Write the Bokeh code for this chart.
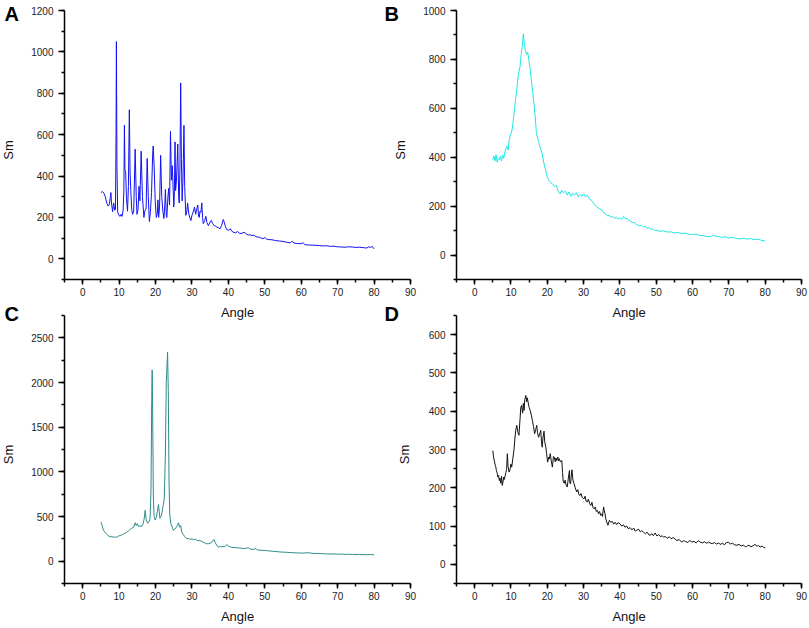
import math
from bokeh.plotting import figure
from bokeh.models import LinearAxis, SingleIntervalTicker, Label, Range1d
from bokeh.embed import file_html
from bokeh.resources import INLINE

# ---------------- data ----------------
panel_letters = ["A", "B", "C", "D"]
x_limits = (-5, 90)
x_tick_interval = 10
y_limits = {"A": (-100, 1200), "B": (-100, 1000), "C": (-250, 2750), "D": (-50, 650)}
y_tick_interval = {"A": 200, "B": 200, "C": 500, "D": 100}
x_title = "Angle"
y_title = "Sm"

A_angle = [5.0, 5.4, 5.8, 6.2, 6.6, 7.0, 7.3, 7.6, 7.75, 7.9, 8.2, 8.5, 8.8, 9.0, 9.15, 9.25, 9.4, 9.6, 9.9,
           10.2, 10.5, 10.8, 11.1, 11.3, 11.45, 11.6, 11.8, 12.0, 12.3, 12.55, 12.8, 13.0, 13.2, 13.45, 13.7,
           14.0, 14.4, 14.7, 14.9, 15.2, 15.45, 15.7, 16.05, 16.4, 16.8, 17.1, 17.4, 17.7, 18.0, 18.3, 18.6,
           18.9, 19.2, 19.35, 19.6, 19.9, 20.2, 20.5, 20.65, 20.85, 21.1, 21.4, 21.7, 22.0, 22.3, 22.55, 22.7,
           22.95, 23.1, 23.4, 23.6, 23.85, 24.1, 24.35, 24.6, 24.85, 25.0, 25.15, 25.35, 25.5, 25.75, 26.1,
           26.35, 26.5, 26.7, 26.9, 27.1, 27.3, 27.55, 27.8, 28.0, 28.3, 28.6, 28.8, 29.1, 29.4, 29.7, 30.0,
           30.3, 30.7, 31.0, 31.3, 31.6, 31.8, 32.0, 32.2, 32.45, 32.7, 32.9, 33.1, 33.5, 33.8, 34.1, 34.5,
           34.9, 35.3, 35.7, 36.1, 36.5, 36.9, 37.3, 37.7, 38.1, 38.6, 38.9, 39.2, 39.6, 40.0, 40.5, 41.0,
           41.5, 42.0, 42.5, 43.0, 43.5, 44.0, 44.5, 45.0, 45.5, 46.0, 46.5, 47.0, 47.5, 48.0, 48.5, 49.0,
           49.5, 50.0, 50.5, 51.0, 52.0, 53.0, 54.0, 55.0, 56.0, 57.0, 57.5, 58.0, 59.0, 60.0, 60.5, 61.0,
           62.0, 63.0, 64.0, 65.0, 66.0, 67.0, 68.0, 69.0, 70.0, 71.0, 72.0, 73.0, 74.0, 75.0, 76.0, 77.0,
           78.0, 78.5, 79.0, 79.5, 80.0]
A_sm = [320, 325, 318, 300, 270, 255, 262, 300, 320, 270, 228, 270, 235, 240, 600, 1050, 450, 225, 212,
        205, 215, 205, 235, 330, 645, 430, 420, 300, 230, 350, 720, 420, 330, 240, 215,
        230, 530, 300, 215, 240, 350, 280, 520, 300, 200, 235, 240, 485, 300, 180, 230,
        320, 500, 545, 450, 280, 200, 220, 285, 200, 250, 500, 300, 230, 195, 260, 335,
        210, 200, 300, 340, 260, 615, 380, 450, 330, 250, 300, 565, 330, 380, 555,
        300, 270, 450, 850, 480, 280, 400, 645, 350, 210, 230, 270, 220, 200, 185, 210,
        225, 250, 215, 240, 260, 205, 200, 230, 225, 270, 200, 170, 185, 205, 175, 160,
        175, 185, 170, 160, 158, 152, 150, 145, 160, 190, 175, 155, 140, 138, 145, 132,
        128, 126, 132, 124, 122, 126, 128, 118, 115, 116, 112, 114, 108, 105, 104, 100,
        97, 103, 95, 93, 92, 88, 86, 84, 80, 77, 85, 76, 74, 73, 78, 68,
        67, 66, 65, 64, 62, 63, 60, 61, 58, 57, 56, 58, 57, 55, 56, 54,
        52, 58, 55, 60, 48]

B_angle = [5.0, 5.3, 5.6, 5.9, 6.2, 6.5, 6.8, 7.1, 7.4, 7.7, 8.0, 8.3, 8.6, 8.9, 9.2, 9.5, 9.8, 10.1, 10.4,
           10.7, 11.0, 11.3, 11.6, 11.9, 12.2, 12.5, 12.8, 13.1, 13.4, 13.7, 14.0, 14.3, 14.6, 14.9, 15.2,
           15.5, 15.8, 16.1, 16.4, 16.7, 17.0, 17.3, 17.6, 18.0, 18.5, 19.0, 19.5, 20.0, 20.5, 21.0, 21.5,
           22.0, 22.5, 23.0, 23.5, 24.0, 24.5, 25.0, 25.5, 26.0, 26.5, 27.0, 27.5, 28.0, 28.5, 29.0, 29.5,
           30.0, 30.5, 31.0, 31.5, 32.0, 32.5, 33.0, 33.5, 34.0, 34.5, 35.0, 35.5, 36.0, 36.5, 37.0, 37.5,
           38.0, 38.5, 39.0, 39.5, 40.0, 40.5, 41.0, 41.5, 42.0, 42.5, 43.0, 43.5, 44.0, 44.5, 45.0, 45.5,
           46.0, 46.5, 47.0, 47.5, 48.0, 48.5, 49.0, 49.5, 50.0, 51.0, 52.0, 53.0, 54.0, 55.0, 56.0, 57.0,
           58.0, 59.0, 60.0, 61.0, 62.0, 63.0, 64.0, 65.0, 65.5, 66.0, 67.0, 68.0, 69.0, 70.0, 71.0, 72.0,
           73.0, 74.0, 75.0, 76.0, 77.0, 78.0, 79.0, 80.0]
B_sm = [390, 405, 385, 410, 380, 395, 390, 405, 385, 410, 395, 420, 435, 445, 430, 470, 490, 500, 520,
        560, 600, 640, 680, 720, 750, 770, 820, 850, 905, 860, 835, 820, 830, 800, 770,
        730, 690, 650, 610, 560, 500, 480, 465, 440, 420, 380, 350, 320, 305, 295, 290,
        280, 285, 260, 250, 265, 255, 262, 245, 258, 240, 252, 245, 255, 238, 248, 240,
        250, 238, 245, 230, 225, 218, 205, 200, 192, 188, 185, 174, 170, 160, 162, 155,
        158, 150, 155, 148, 152, 146, 158, 148, 150, 140, 138, 132, 134, 125, 122, 120,
        122, 115, 118, 110, 112, 106, 108, 100, 102, 97, 99, 94, 95, 90, 92, 88,
        90, 85, 84, 86, 80, 79, 76, 74, 82, 78, 76, 72, 75, 70, 72, 68,
        66, 69, 65, 67, 63, 65, 60, 57]

C_angle = [5.0, 5.2, 5.5, 5.8, 6.1, 6.5, 7.0, 7.5, 8.0, 8.5, 9.0, 9.5, 10.0, 10.5, 11.0, 11.5, 12.0, 12.5,
           13.0, 13.5, 14.0, 14.4, 14.7, 15.0, 15.3, 15.7, 16.2, 16.6, 16.9, 17.15, 17.4, 17.8, 18.2, 18.5,
           18.75, 18.95, 19.07, 19.2, 19.4, 19.6, 19.9, 20.2, 20.5, 20.8, 21.0, 21.2, 21.5, 21.7, 22.0,
           22.4, 22.7, 22.95, 23.3, 23.5, 23.7, 23.9, 24.2, 24.6, 24.9, 25.3, 25.7, 26.0, 26.3, 26.6, 26.9,
           27.2, 27.6, 28.0, 28.6, 29.0, 29.5, 30.0, 30.5, 31.0, 31.4, 32.0, 32.5, 33.0, 33.5, 34.0, 34.6,
           35.0, 35.5, 35.8, 36.1, 36.4, 36.8, 37.2, 37.6, 38.0, 38.5, 39.0, 39.5, 40.0, 40.5, 41.0, 42.0,
           43.0, 44.0, 45.0, 45.5, 46.0, 47.0, 47.5, 48.0, 49.0, 50.0, 51.0, 52.0, 53.0, 54.0, 55.0, 56.0,
           57.0, 58.0, 59.0, 60.0, 61.0, 62.0, 63.0, 64.0, 65.0, 66.0, 67.0, 68.0, 69.0, 70.0, 71.0, 72.0,
           73.0, 74.0, 75.0, 76.0, 77.0, 78.0, 79.0, 80.0]
C_sm = [440, 419, 370, 340, 325, 305, 285, 276, 272, 270, 268, 272, 285, 290, 300, 310, 320, 335,
        355, 370, 380, 430, 400, 420, 388, 395, 389, 420, 480, 570, 470, 425, 440, 480,
        800, 1800, 2142, 1700, 700, 500, 460, 490, 560, 634, 560, 480, 500, 530, 600,
        700, 1200, 2000, 2339, 1900, 900, 520, 419, 380, 343, 360, 380, 400, 430, 380, 400,
        325, 300, 275, 250, 255, 245, 250, 240, 245, 232, 232, 225, 215, 205, 195, 195,
        200, 215, 235, 240, 205, 180, 157, 165, 160, 165, 160, 185, 170, 160, 155, 150,
        148, 142, 146, 150, 135, 132, 140, 125, 122, 120, 115, 112, 108, 104, 101, 99,
        96, 94, 92, 90, 92, 95, 88, 86, 85, 83, 82, 80, 81, 78, 79, 76,
        78, 75, 74, 76, 73, 72, 74, 71]

D_angle = [5.0, 5.2, 5.4, 5.6, 5.8, 6.0, 6.2, 6.4, 6.6, 6.8, 7.0, 7.2, 7.4, 7.6, 7.8, 8.0, 8.2, 8.4, 8.6,
           8.8, 9.0, 9.2, 9.5, 9.8, 10.0, 10.2, 10.5, 10.8, 11.1, 11.3, 11.6, 11.9, 12.2, 12.5, 12.7, 12.9,
           13.2, 13.4, 13.6, 13.8, 14.1, 14.3, 14.5, 14.8, 15.0, 15.3, 15.6, 15.9, 16.2, 16.5, 16.8, 17.1,
           17.3, 17.6, 17.9, 18.2, 18.4, 18.6, 18.8, 19.1, 19.3, 19.6, 19.8, 20.1, 20.4, 20.6, 20.8, 21.1,
           21.4, 21.7, 21.9, 22.2, 22.4, 22.6, 22.9, 23.1, 23.3, 23.6, 24.0, 24.2, 24.4, 24.7, 24.9, 25.1,
           25.3, 25.5, 25.8, 26.1, 26.2, 26.4, 26.6, 26.8, 27.0, 27.2, 27.4, 27.7, 28.1, 28.4, 28.7, 29.0,
           29.3, 29.6, 30.1, 30.4, 30.7, 31.0, 31.3, 31.7, 32.0, 32.3, 32.6, 32.9, 33.2, 33.5, 33.8, 34.1,
           34.4, 34.7, 35.0, 35.2, 35.5, 35.7, 35.9, 36.1, 36.4, 36.7, 37.1, 37.5, 37.9, 38.3, 38.7, 39.1,
           39.5, 40.0, 40.5, 41.0, 41.4, 41.9, 42.3, 42.8, 43.3, 43.8, 44.2, 44.6, 45.1, 45.6, 46.0, 46.5,
           47.0, 47.5, 48.0, 48.3, 48.8, 49.2, 49.7, 50.2, 50.7, 51.2, 51.6, 52.0, 52.5, 53.0, 53.6, 54.1,
           54.7, 55.2, 55.7, 56.3, 57.0, 57.5, 58.0, 58.7, 59.3, 59.8, 60.4, 61.0, 61.6, 62.1, 62.7, 63.3,
           63.9, 64.4, 64.8, 65.4, 66.0, 66.6, 67.2, 67.6, 68.2, 68.8, 69.3, 69.9, 70.4, 71.0, 71.6, 72.2,
           72.8, 73.4, 74.0, 74.6, 74.9, 75.5, 76.1, 76.7, 77.2, 77.8, 78.1, 78.6, 79.2, 79.6, 80.0]
D_sm = [297, 280, 271, 262, 255, 245, 238, 228, 232, 219, 225, 212, 230, 206, 215, 228, 222, 232, 240,
        248, 289, 255, 241, 250, 262, 254, 275, 297, 330, 350, 363, 345, 337, 380, 410, 415,
        395, 420, 402, 430, 441, 425, 435, 419, 410, 402, 390, 376, 360, 341, 352, 363,
        345, 332, 340, 350, 320, 306, 330, 348, 320, 306, 290, 267, 280, 275, 289, 270,
        254, 282, 280, 268, 278, 271, 280, 270, 276, 268, 271, 240, 215, 212, 220, 210,
        205, 202, 225, 245, 215, 210, 230, 247, 225, 215, 210, 200, 189, 195, 182, 180,
        185, 175, 171, 178, 165, 163, 170, 158, 154, 162, 148, 145, 150, 138, 141, 132,
        138, 128, 132, 125, 150, 140, 132, 119, 110, 102, 115, 110, 112, 105, 110, 104,
        109, 106, 100, 103, 97, 100, 93, 96, 90, 95, 87, 89, 92, 85, 88, 84,
        80, 84, 77, 76, 80, 75, 82, 74, 78, 72, 75, 71, 73, 68, 72, 67,
        70, 66, 62, 65, 58, 62, 60, 57, 63, 58, 60, 56, 62, 58, 56, 59,
        55, 58, 56, 54, 57, 53, 56, 52, 55, 51, 57, 58, 53, 55, 51, 50,
        52, 48, 50, 46, 47, 50, 46, 49, 52, 47, 50, 45, 48, 44, 43]

series = {
    "A": (A_angle, A_sm),
    "B": (B_angle, B_sm),
    "C": (C_angle, C_sm),
    "D": (D_angle, D_sm),
}

# ---------------- styling / layout ----------------
W, H = 809, 628
FONT = "Liberation Sans"
line_colors = {"A": "#1010F5", "B": "#1EE6E6", "C": "#2E8B8B", "D": "#111111"}
# frame box of each panel on the canvas, in pixels: (left, right, top, bottom)
frames = {
    "A": (64, 410, 10, 279),
    "B": (456, 801, 10, 279),
    "C": (64, 410, 315, 583),
    "D": (456, 801, 315, 583),
}
sm_dx = {"A": -56, "B": -56, "C": -56, "D": -52}
letter_dx = {"A": -60, "B": -72, "C": -60, "D": -72}
letter_dy = {"A": 8, "B": 8, "C": 13, "D": 13}


def canvas_x_range(v0, v1, p0, p1):
    k = (v1 - v0) / (p1 - p0)
    return Range1d(v0 - p0 * k, v0 + (W - p0) * k)


def canvas_y_range(v_top, v_bot, p_top, p_bot):
    k = (v_bot - v_top) / (p_bot - p_top)
    return Range1d(v_top + (H - p_top) * k, v_top - p_top * k)


p = figure(width=W, height=H, output_backend="svg", toolbar_location=None,
           x_range=Range1d(0, 1), y_range=Range1d(0, 1),
           x_axis_location=None, y_axis_location=None,
           min_border=0, min_border_left=0, min_border_right=0,
           min_border_top=0, min_border_bottom=0,
           styles={"position": "absolute", "left": "0px", "top": "0px"})
p.outline_line_color = None
p.grid.visible = False
p.background_fill_color = "white"
p.border_fill_color = "white"

for key in panel_letters:
    left, right, top, bottom = frames[key]
    y0, y1 = y_limits[key]
    xr, yr = "x" + key, "y" + key
    p.extra_x_ranges[xr] = canvas_x_range(x_limits[0], x_limits[1], left, right)
    p.extra_y_ranges[yr] = canvas_y_range(y1, y0, top, bottom)

    xs, ys = series[key]
    p.line(xs, ys, x_range_name=xr, y_range_name=yr, line_color=line_colors[key], line_width=1)

    xaxis = LinearAxis(x_range_name=xr, y_range_name=yr, fixed_location=y0, bounds=x_limits,
                       ticker=SingleIntervalTicker(interval=x_tick_interval, num_minor_ticks=2))
    yaxis = LinearAxis(x_range_name=xr, y_range_name=yr, fixed_location=x_limits[0], bounds=(y0, y1),
                       ticker=SingleIntervalTicker(interval=y_tick_interval[key], num_minor_ticks=2))
    for ax in (xaxis, yaxis):
        ax.axis_line_color = "black"
        ax.axis_line_width = 1.5
        ax.major_tick_line_color = "black"
        ax.major_tick_line_width = 1.5
        ax.minor_tick_line_color = "black"
        ax.minor_tick_line_width = 1.5
        ax.major_tick_in = 0
        ax.minor_tick_in = 0
        ax.minor_tick_out = 3
        ax.major_label_text_font = FONT
        ax.major_label_text_font_size = "10px"
        ax.major_label_text_color = "#222222"
    xaxis.major_tick_out = 5
    yaxis.major_tick_out = 6
    xaxis.major_label_standoff = 3
    yaxis.major_label_standoff = 5
    p.add_layout(xaxis, "below")
    p.add_layout(yaxis, "left")

    # axis titles
    p.add_layout(Label(x=(x_limits[0] + x_limits[1]) / 2, y=y0, x_range_name=xr, y_range_name=yr,
                       y_offset=-33, text=x_title, text_font=FONT, text_font_size="13px",
                       text_color="#111111", text_align="center", text_baseline="middle"))
    p.add_layout(Label(x=x_limits[0], y=(y0 + y1) / 2, x_range_name=xr, y_range_name=yr,
                       x_offset=sm_dx[key], y_offset=-5, angle=math.pi / 2, text=y_title,
                       text_font=FONT, text_font_size="13px", text_color="#111111",
                       text_align="center", text_baseline="middle"))
    # panel letter
    p.add_layout(Label(x=x_limits[0], y=y1, x_range_name=xr, y_range_name=yr,
                       x_offset=letter_dx[key], y_offset=letter_dy[key],
                       text=key, text_font=FONT, text_font_size="20px", text_font_style="bold",
                       text_color="black", text_align="left", text_baseline="top"))

open("out.html", "w").write(file_html(p, INLINE))
